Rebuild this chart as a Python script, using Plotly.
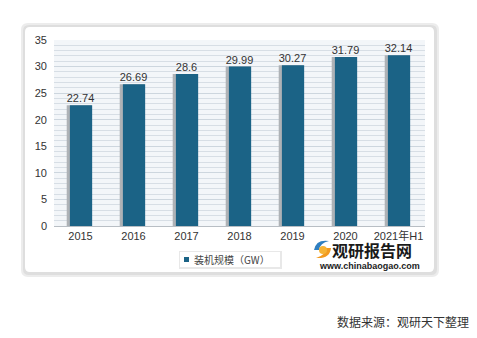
import plotly.graph_objects as go

# Installed capacity by year (GW)
years = ["2015", "2016", "2017", "2018", "2019", "2020", "2021年H1"]
capacity = [22.74, 26.69, 28.6, 29.99, 30.27, 31.79, 32.14]
value_labels = ["22.74", "26.69", "28.6", "29.99", "30.27", "31.79", "32.14"]
series_name = "装机规模（GW）"
source_note = "数据来源：观研天下整理"

W, H = 477, 338
L, R, T, B = 54, 52, 40, 112
PW, PH = W - L - R, H - T - B

def px(x):
    return (x - L) / PW

def py(y):
    return (H - B - y) / PH

def rounded_rect(x0, y0, x1, y1, r):
    # rounded rectangle in pixel coordinates, converted to paper coordinates
    rx, ry = r / PW, r / PH
    X0, X1 = px(x0), px(x1)
    Yt, Yb = py(y0), py(y1)
    return (f"M {X0+rx},{Yt} L {X1-rx},{Yt} Q {X1},{Yt} {X1},{Yt-ry} "
            f"L {X1},{Yb+ry} Q {X1},{Yb} {X1-rx},{Yb} L {X0+rx},{Yb} "
            f"Q {X0},{Yb} {X0},{Yb+ry} L {X0},{Yt-ry} Q {X0},{Yt} {X0+rx},{Yt} Z")

bar_color = "#1b6386"
font_main = "Liberation Sans, Arial, Noto Sans CJK SC, sans-serif"

fig = go.Figure()
# soft shadow behind each column
fig.add_trace(go.Bar(
    x=years, y=capacity, width=0.47, offset=-0.26,
    marker=dict(color="#aeb2b6", line=dict(width=0)),
    showlegend=False, hoverinfo="skip",
))
fig.add_trace(go.Bar(
    x=years, y=capacity, width=0.42, offset=-0.2,
    name=series_name, showlegend=False,
    marker=dict(color=bar_color, line=dict(width=0)),
))
# value labels above the columns
fig.add_trace(go.Scatter(
    x=years, y=capacity, mode="text", text=value_labels,
    textposition="top center",
    textfont=dict(size=11, color="#333333", family=font_main),
    showlegend=False, hoverinfo="skip", cliponaxis=False,
))

shapes = [
    # card shadow and card
    dict(type="path", xref="paper", yref="paper", layer="below",
         path=rounded_rect(21, 23, 439, 277, 7), fillcolor="#ececec", line=dict(width=0)),
    dict(type="path", xref="paper", yref="paper", layer="below",
         path=rounded_rect(23, 25, 437, 275, 6), fillcolor="#dedede", line=dict(width=0)),
    dict(type="path", xref="paper", yref="paper", layer="below",
         path=rounded_rect(25, 27, 434, 272, 5), fillcolor="#ffffff", line=dict(width=0)),
    # plot area tint
    dict(type="rect", xref="paper", yref="paper", layer="below",
         x0=0, x1=1, y0=0, y1=1, fillcolor="#f3f6f9", line=dict(width=0)),
    # legend box with soft shadow
    dict(type="rect", xref="paper", yref="paper", layer="below",
         x0=px(179), x1=px(282), y0=py(269), y1=py(251),
         fillcolor="#e8e8e8", line=dict(width=0)),
    dict(type="rect", xref="paper", yref="paper", layer="below",
         x0=px(180), x1=px(280), y0=py(267), y1=py(252),
         fillcolor="#ffffff", line=dict(width=0)),
    # legend key
    dict(type="rect", xref="paper", yref="paper",
         x0=px(184), x1=px(189), y0=py(262), y1=py(257),
         fillcolor=bar_color, line=dict(width=0)),
    # logo swirl
    dict(type="path", xref="paper", yref="paper",
         path=(f"M {px(314)},{py(250)} Q {px(316)},{py(239)} {px(329)},{py(241)} "
               f"Q {px(320)},{py(243)} {px(319)},{py(250)} Z"),
         fillcolor="#2f7fc1", line=dict(width=0)),
    dict(type="path", xref="paper", yref="paper",
         path=(f"M {px(331)},{py(248)} Q {px(330)},{py(259)} {px(316)},{py(258)} "
               f"Q {px(326)},{py(255)} {px(326)},{py(248)} Z"),
         fillcolor="#f29a1f", line=dict(width=0)),
    dict(type="circle", xref="paper", yref="paper",
         x0=px(319), x1=px(327), y0=py(254), y1=py(246),
         fillcolor="#f5b335", line=dict(width=0)),
]

annotations = [
    dict(text=series_name, x=px(192), y=py(259.5), xref="paper", yref="paper",
         showarrow=False, font=dict(size=10, color="#444444", family="Noto Sans CJK SC"),
         xanchor="left", yanchor="middle"),
    dict(text="<b>观研报告网</b>", x=px(372), y=py(250), xref="paper", yref="paper",
         showarrow=False, font=dict(size=16, color="#1a1a1a", family="Noto Sans CJK SC"),
         xanchor="center", yanchor="middle"),
    dict(text="<b>www.chinabaogao.com</b>", x=px(369), y=py(266), xref="paper", yref="paper",
         showarrow=False, font=dict(size=9, color="#222222", family=font_main),
         xanchor="center", yanchor="middle"),
    dict(text=source_note, x=px(471), y=py(321), xref="paper", yref="paper",
         showarrow=False, font=dict(size=12, color="#333333", family="Noto Sans CJK SC"),
         xanchor="right", yanchor="middle"),
]

fig.update_layout(
    width=W, height=H,
    margin=dict(l=L, r=R, t=T, b=B),
    paper_bgcolor="#ffffff",
    plot_bgcolor="rgba(0,0,0,0)",
    barmode="overlay",
    font=dict(family=font_main, size=11, color="#333333"),
    shapes=shapes,
    annotations=annotations,
    showlegend=False,
    xaxis=dict(
        showline=True, linecolor="#b8bec4", linewidth=1,
        ticks="", tickfont=dict(size=11, color="#333333"),
        showgrid=False, range=[-0.5, 6.5],
    ),
    yaxis=dict(
        range=[0, 35], dtick=5, tick0=0,
        showgrid=True, gridcolor="#cdd6de", gridwidth=1,
        minor=dict(dtick=1, showgrid=True, gridcolor="#d7dee5", gridwidth=1),
        zeroline=False, showline=False, ticks="",
        tickfont=dict(size=11, color="#333333"),
        ticklabelstandoff=6,
    ),
)

fig.write_html("out.html")
